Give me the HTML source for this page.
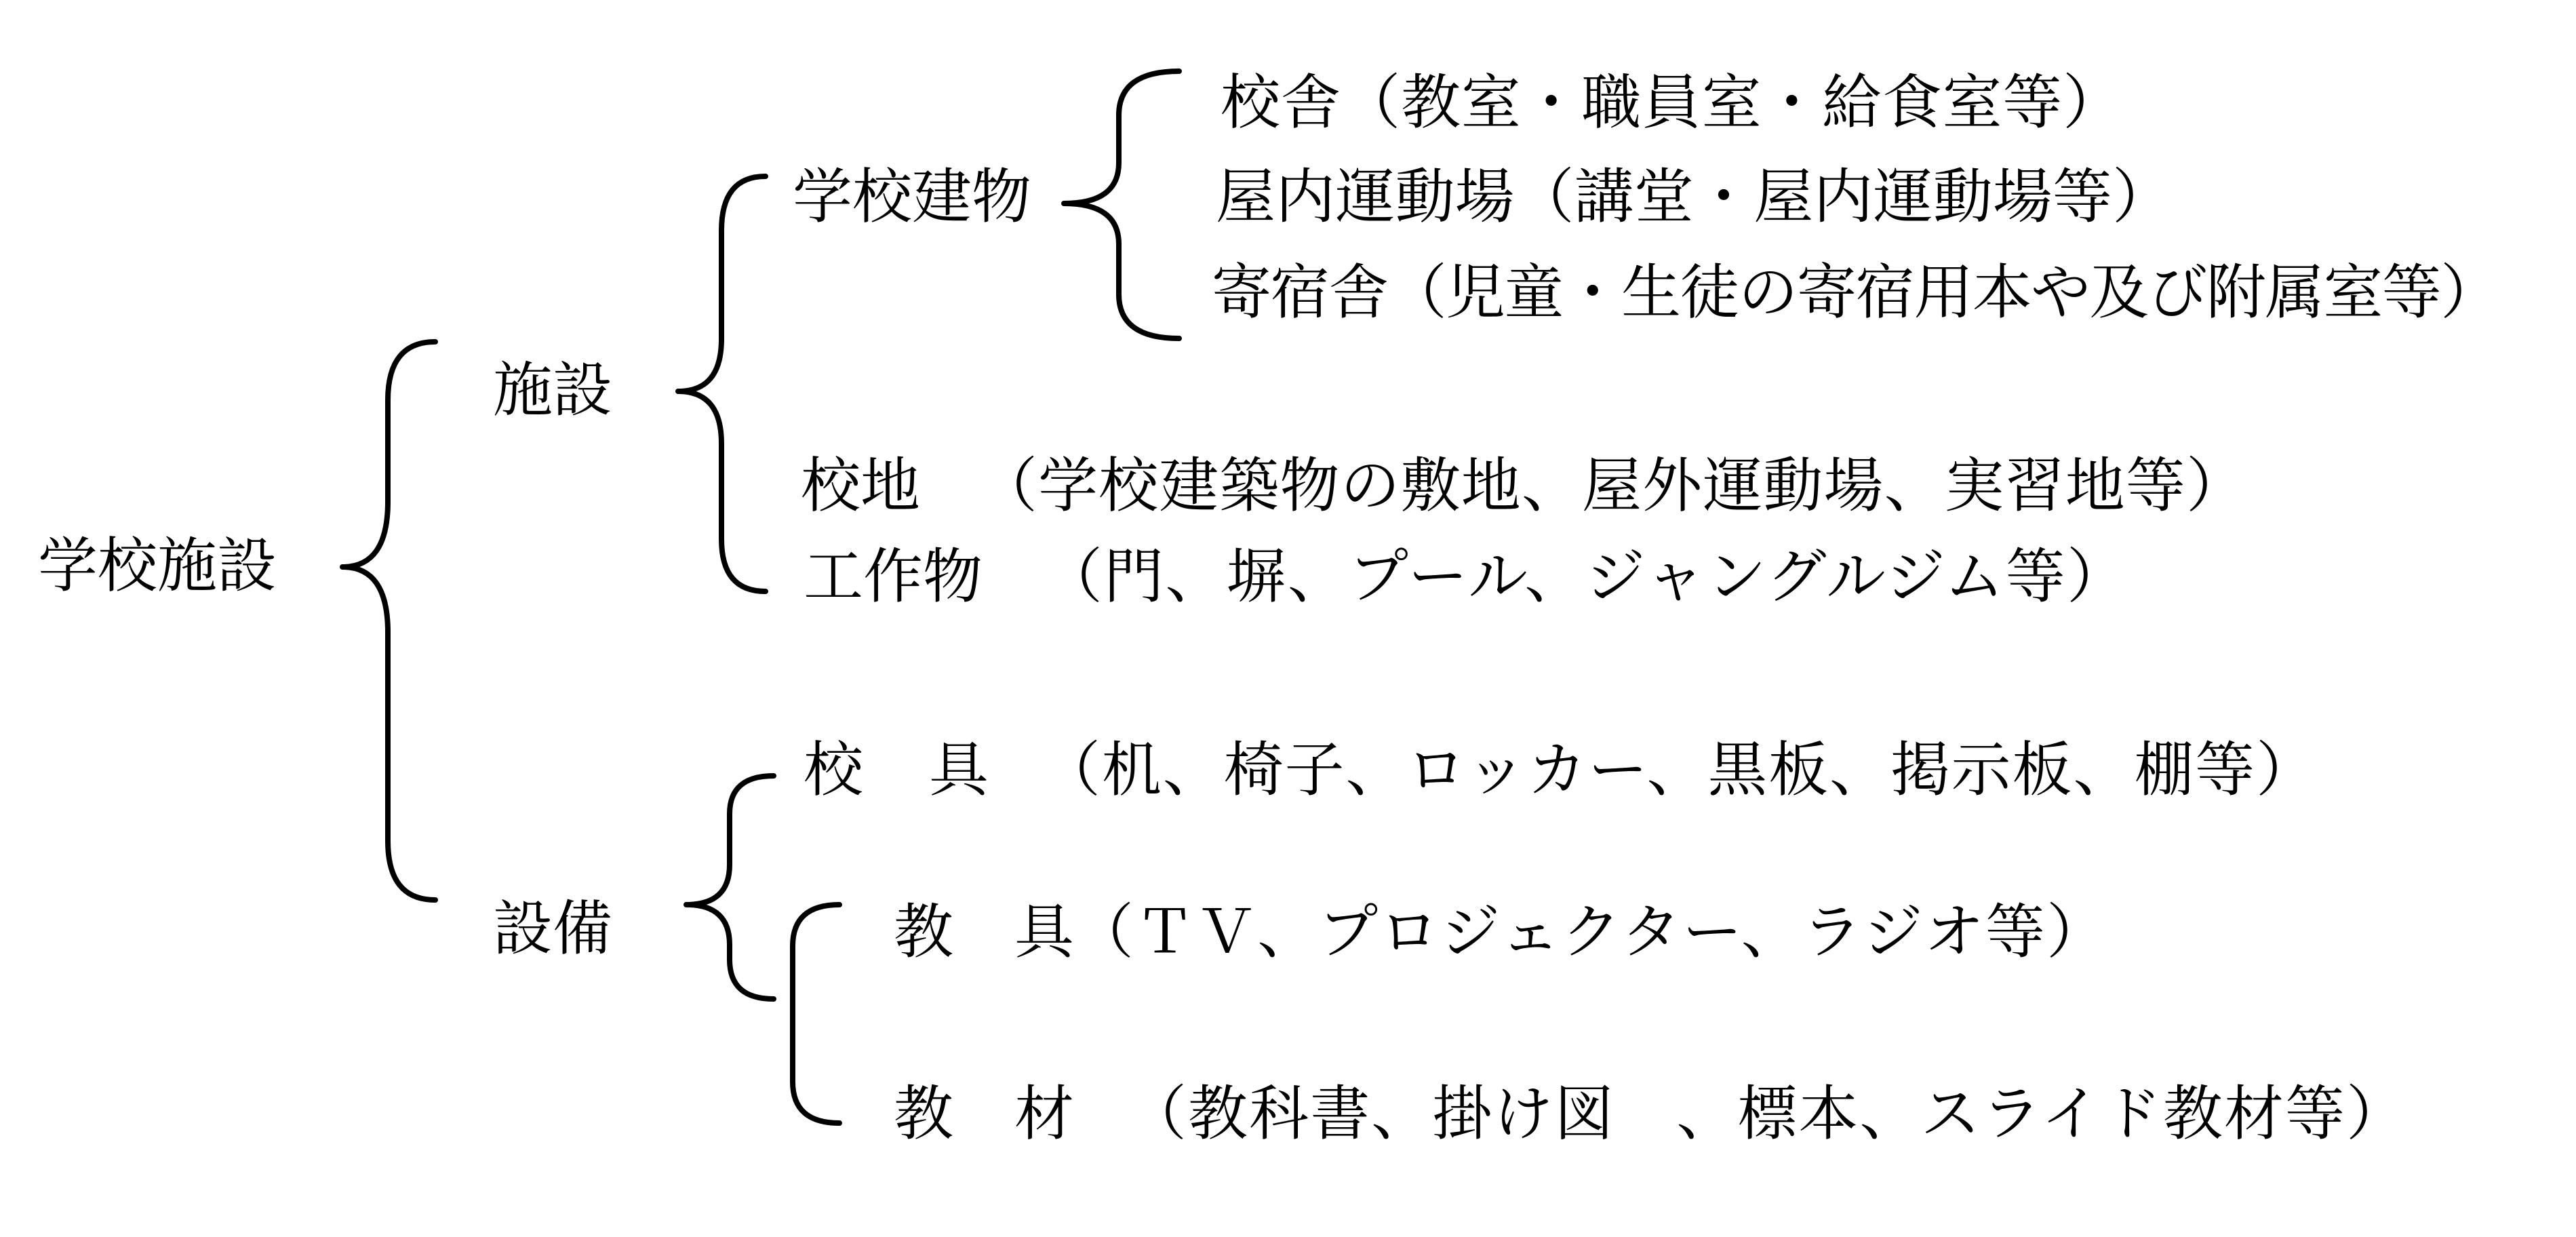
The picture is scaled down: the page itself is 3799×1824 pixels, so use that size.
<!DOCTYPE html>
<html><head><meta charset="utf-8"><style>
html,body{margin:0;padding:0;background:#fff;}
svg{display:block;}
text{font-family:"Liberation Serif","Noto Serif CJK SC","Noto Serif CJK JP",serif;font-size:88px;fill:#000;dominant-baseline:central;}
path{fill:none;stroke:#000;stroke-width:8;stroke-linecap:round;stroke-linejoin:round;}
</style></head><body>
<svg width="3799" height="1824" viewBox="0 0 3799 1824" xmlns="http://www.w3.org/2000/svg">
<path d="M642 504 Q572 504 572 590 L572 740 Q572 836 505 836 Q572 836 572 932 L572 1240 Q572 1327 642 1327"/>
<path d="M1129 260 Q1064 260 1064 340 L1064 500 Q1064 577 1000 577 Q1064 577 1064 654 L1064 795 Q1064 872 1129 872"/>
<path d="M1739 105 Q1650 105 1650 170 L1650 240 Q1650 300 1569 300 Q1650 300 1650 360 L1650 434 Q1650 499 1739 499"/>
<path d="M1141 1144 Q1076 1144 1076 1200 L1076 1275 Q1076 1334 1012 1334 Q1076 1334 1076 1393 L1076 1415 Q1076 1473 1141 1473"/>
<path d="M1238 1334 Q1169 1334 1169 1395 L1169 1595 Q1169 1656 1238 1656"/>

<text x="56" y="836" textLength="352" lengthAdjust="spacing">学校施設</text>
<text x="727" y="577">施設</text>
<text x="727" y="1371">設備</text>
<text x="1169" y="292">学校建物</text>

<text x="1800" y="153" textLength="1330" lengthAdjust="spacing">校舎（教室・職員室・給食室等）</text>
<text x="1793" y="292" textLength="1410" lengthAdjust="spacing">屋内運動場（講堂・屋内運動場等）</text>
<text x="1787" y="433" textLength="1900" lengthAdjust="spacing">寄宿舎（児童・生徒の寄宿用本や及び附属室等）</text>

<text x="1181" y="718">校地</text>
<text x="1442" y="718" textLength="1870" lengthAdjust="spacing">（学校建築物の敷地、屋外運動場、実習地等）</text>
<text x="1185" y="852">工作物</text>
<text x="1538" y="852" textLength="1598" lengthAdjust="spacing">（門、塀、プール、ジャングルジム等）</text>

<text x="1185" y="1137">校</text>
<text x="1370" y="1137">具</text>
<text x="1535" y="1137" textLength="1880" lengthAdjust="spacing">（机、椅子、ロッカー、黒板、掲示板、棚等）</text>

<text x="1318" y="1376">教</text>
<text x="1496" y="1376">具</text>
<text x="1584" y="1376" textLength="1522" lengthAdjust="spacing">（ＴＶ、プロジェクター、ラジオ等）</text>

<text x="1318" y="1644">教</text>
<text x="1496" y="1644">材</text>
<text x="1662" y="1644" textLength="1886" lengthAdjust="spacing">（教科書、掛け図　、標本、スライド教材等）</text>
</svg>
</body></html>
